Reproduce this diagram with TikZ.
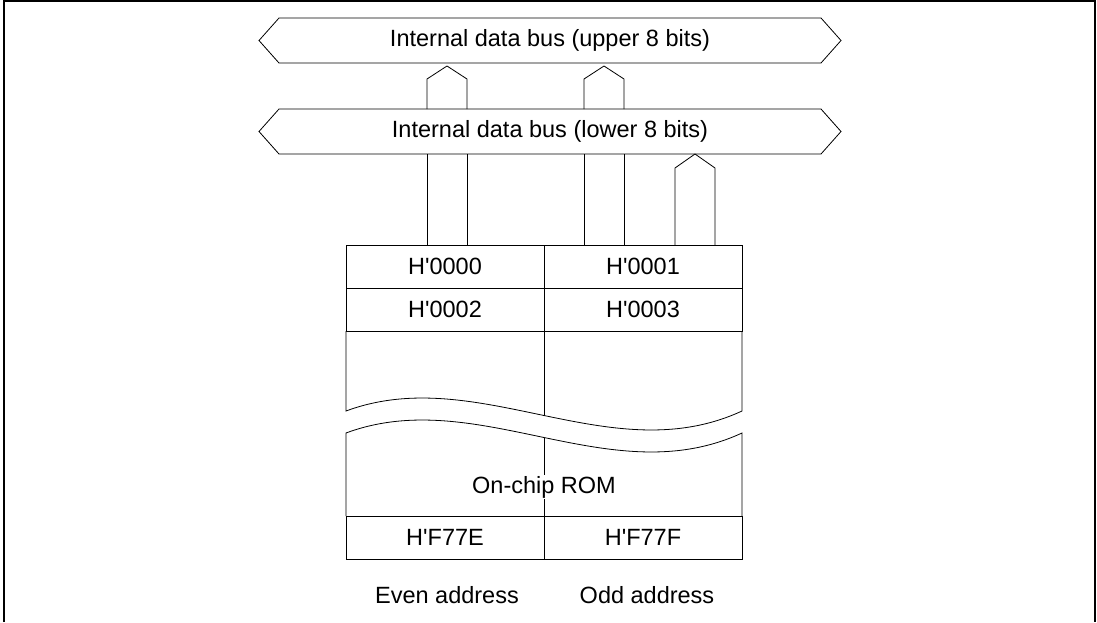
\documentclass[tikz,border=0pt]{standalone}
\usepackage{fontspec}
\setmainfont{Liberation Sans}
\usetikzlibrary{positioning,calc}

\newcommand{\hx}[1]{H\textquotesingle#1}

\begin{document}
\begin{tikzpicture}[x=1pt, y=-1pt,
    line/.style={draw=black, line width=0.8pt, line join=miter},
    txt/.style={font=\fontsize{23.5}{26}\selectfont, inner sep=1pt},
    busbody/.style={txt, minimum width=542pt, minimum height=45pt, inner sep=0pt, outer sep=0pt},
    cell/.style={txt, draw=black, line width=0.8pt, minimum width=198pt, minimum height=43pt, inner sep=0pt, outer sep=0pt},
    frame/.style={draw=black, line width=1.4pt}
]
    \useasboundingbox (0,0) rectangle (1097,622);
    \draw [frame] (4,622) -- (4,1) -- (1095,1) -- (1095,622);

    % buses
    \node [busbody] (ubus) at (550,40.5) {Internal data bus (upper 8 bits)};
    \node [busbody, below=46pt of ubus] (lbus) {Internal data bus (lower 8 bits)};
    \draw [line] (ubus.north west) -- (ubus.north east) -- ++(20,22.5) -- (ubus.south east)
        -- (ubus.south west) -- ++(-20,-22.5) -- cycle;
    \draw [line] (lbus.north west) -- (lbus.north east) -- ++(20,22.5) -- (lbus.south east)
        -- (lbus.south west) -- ++(-20,-22.5) -- cycle;

    % memory
    \node [cell] (c0) at (445,266.5) {\hx{0000}};
    \node [cell, right=0pt of c0] (c1) {\hx{0001}};
    \node [cell, below=0pt of c0] (c2) {\hx{0002}};
    \node [cell, right=0pt of c2] (c3) {\hx{0003}};
    \node [cell] (ce) at (445,537.5) {\hx{F77E}};
    \node [cell, right=0pt of ce] (cf) {\hx{F77F}};

    \draw [line] (c2.south west) -- (346,411) .. controls (478,362) and (610,472) .. (742,411) -- (c3.south east);
    \draw [line] (ce.north west) -- (346,433) .. controls (478,384) and (610,494) .. (742,433) -- (cf.north east);
    \draw [line] (c2.south east) -- (544,415.5);
    \draw [line] (544,437.5) -- (ce.north east);
    \node [txt, fill=white] (rom) at (544,487) {On-chip ROM};

    \node [txt] (even) at ($(ce.south)+(2,36)$) {Even address};
    \node [txt] (odd) at ($(cf.south)+(4,36)$) {Odd address};

    % lower bus to upper bus
    \draw [line] (427,0 |- lbus.north) -- ++(0,-30) -- ++(20,-13) -- ++(20,13) -- (467,0 |- lbus.north);
    \draw [line] (584,0 |- lbus.north) -- ++(0,-30) -- ++(20,-13) -- ++(20,13) -- (624,0 |- lbus.north);

    % memory to lower bus
    \foreach \x in {427,467,584,624}
        \draw [line] (\x,0 |- c0.north) -- (\x,0 |- lbus.south);
    \draw [line] (675,0 |- c1.north) -- (675,168) -- (695,0 |- lbus.south) -- (715,168) -- (715,0 |- c1.north);
\end{tikzpicture}
\end{document}
